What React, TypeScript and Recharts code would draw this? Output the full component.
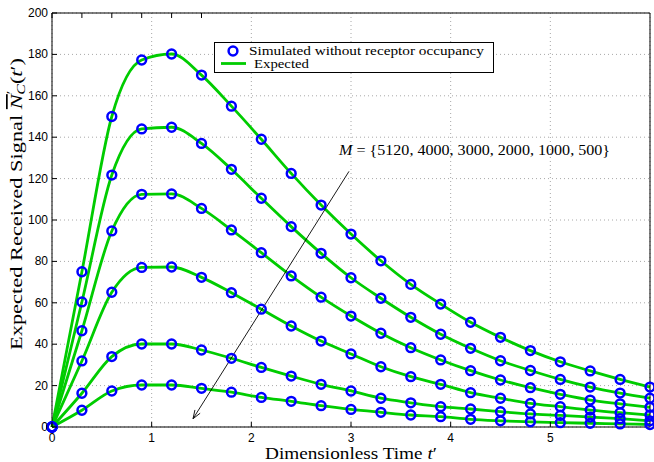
import React from "react";
import { ComposedChart, Line, XAxis, YAxis, CartesianGrid, ReferenceLine } from "recharts";

// sample times (dimensionless) and curves for each M
const TIMES = [0, 0.3, 0.6, 0.9, 1.2, 1.5, 1.8, 2.1, 2.4, 2.7, 3.0, 3.3, 3.6, 3.9, 4.2, 4.5, 4.8, 5.1, 5.4, 5.7, 6.0];
const M5120 = [0, 75, 150, 177.3, 180.2, 170, 155, 139, 122.5, 107.2, 93.2, 80.3, 68.9, 59.4, 50.6, 43.3, 36.9, 31.5, 27.1, 23, 19.3];
const M4000 = [0, 60.4, 121.7, 144, 144.8, 137, 124.5, 110.5, 96.8, 83.9, 72.1, 62.2, 53, 44.8, 38, 32, 27.3, 23, 19.3, 16.4, 13.9];
const M3000 = [0, 46.5, 94.7, 112.4, 112.6, 105.6, 95.2, 84.2, 73, 62.7, 53.6, 45.3, 38.3, 32.4, 27.2, 22.7, 19, 15.8, 13, 11.2, 9.5];
const M2000 = [0, 31.9, 65.1, 77.1, 77.3, 72.3, 64.9, 56.9, 48.8, 41.5, 35.3, 29.1, 24.3, 20.6, 16.6, 13.9, 11.4, 9.8, 8.2, 6.9, 5.8];
const M1000 = [0, 16.3, 34, 40.1, 40.1, 37.2, 33.2, 28.8, 24.6, 20.6, 17.4, 13.9, 11.7, 9.8, 8.7, 7.4, 6.3, 5.6, 4.8, 4, 3];
const M500 = [0, 8.1, 17.4, 20.3, 20.3, 18.7, 16.8, 14.3, 12.4, 10.3, 8.5, 7.1, 5.8, 5, 3.7, 3, 2.5, 2.1, 1.8, 1.5, 1.2];

const X_TICKS = [0, 1, 2, 3, 4, 5];
const Y_TICKS = [0, 20, 40, 60, 80, 100, 120, 140, 160, 180, 200];

const SERIES = [
  { key: "m5120", values: M5120 },
  { key: "m4000", values: M4000 },
  { key: "m3000", values: M3000 },
  { key: "m2000", values: M2000 },
  { key: "m1000", values: M1000 },
  { key: "m500", values: M500 },
];

// annotation arrow, in data units
const ARROW_FROM = { x: 2.98, y: 123.5 };
const ARROW_TO = { x: 1.415, y: 4 };

const data = TIMES.map((t, i) => {
  const row: Record<string, number> = { t };
  SERIES.forEach((s) => (row[s.key] = s.values[i]));
  return row;
});

const GREEN = "#00cc00";
const BLUE = "#0000ff";
const SANS = "'Liberation Sans', Arial, sans-serif";
const SERIF = "'Liberation Serif', 'Times New Roman', serif";

const XTick = (props: any) => {
  const { x, y, payload } = props;
  return (
    <g>
      <line x1={x} x2={x} y1={y} y2={y - 5} stroke="#000" />
      <text x={x} y={y + 15} textAnchor="middle" fontSize={12} fontFamily={SANS} fill="#000">
        {payload.value}
      </text>
    </g>
  );
};

const TopTick = (props: any) => {
  const { x, y } = props;
  return <line x1={x} x2={x} y1={y} y2={y + 5} stroke="#000" />;
};

const YTick = (props: any) => {
  const { x, y, payload } = props;
  return (
    <g>
      <line x1={x} x2={x + 5} y1={y} y2={y} stroke="#000" />
      <text x={x - 4} y={y + 4} textAnchor="end" fontSize={12} fontFamily={SANS} fill="#000">
        {payload.value}
      </text>
    </g>
  );
};

const RightTick = (props: any) => {
  const { x, y } = props;
  return <line x1={x} x2={x - 5} y1={y} y2={y} stroke="#000" />;
};

const XLabel = (props: any) => {
  const { viewBox } = props;
  const cx = viewBox.x + viewBox.width / 2;
  return (
    <text
      x={cx - 86}
      y={viewBox.y + 32}
      fontSize={17}
      fontFamily={SERIF}
      fill="#000"
      textLength={172}
      lengthAdjust="spacingAndGlyphs"
    >
      Dimensionless Time <tspan fontStyle="italic">t</tspan>′
    </text>
  );
};

const YLabel = () => (
  <text
    transform="translate(22, 350) rotate(-90)"
    fontSize={17}
    fontFamily={SERIF}
    fill="#000"
    textLength={292}
    lengthAdjust="spacingAndGlyphs"
  >
    Expected Received Signal{" "}
    <tspan fontStyle="italic" style={{ textDecoration: "overline" }}>N</tspan>
    <tspan fontSize={12} dy={-7}>′</tspan>
    <tspan fontSize={12} fontStyle="italic" dx={-3} dy={10}>C</tspan>
    <tspan dy={-3}>(</tspan>
    <tspan fontStyle="italic">t</tspan>′)
  </text>
);

const Arrow = (props: any) => {
  const { x1, y1, x2, y2 } = props;
  const ang = Math.atan2(y2 - y1, x2 - x1);
  const len = 9;
  const a1 = ang + Math.PI - 0.35;
  const a2 = ang + Math.PI + 0.35;
  return (
    <g>
      <line x1={x1} y1={y1} x2={x2} y2={y2} stroke="#000" strokeWidth={0.9} />
      <path
        d={`M${x2 + len * Math.cos(a1)},${y2 + len * Math.sin(a1)} L${x2},${y2} L${x2 + len * Math.cos(a2)},${y2 + len * Math.sin(a2)}`}
        stroke="#000"
        strokeWidth={0.9}
        fill="none"
      />
      <text x={x1 - 10} y={y1 - 16} fontSize={15} fontFamily={SERIF} fill="#000" textLength={271} lengthAdjust="spacingAndGlyphs">
        <tspan fontStyle="italic">M</tspan> = {"{"}5120, 4000, 3000, 2000, 1000, 500{"}"}
      </text>
    </g>
  );
};

export default function App() {
  return (
    <div style={{ position: "absolute", left: 0, top: 0, width: 654, height: 462, background: "#fff" }}>
      <ComposedChart width={654} height={462} data={data} margin={{ top: 0, right: 0, bottom: 0, left: 0 }}>
        <CartesianGrid stroke="#a8a8a8" strokeDasharray="1 3" />
        <XAxis
          dataKey="t"
          type="number"
          domain={[0, 6]}
          ticks={X_TICKS}
          height={35}
          tickLine={false}
          tickSize={0}
          tickMargin={0}
          tick={<XTick />}
          axisLine={{ stroke: "#000" }}
          label={<XLabel />}
        />
        <XAxis
          xAxisId="top"
          orientation="top"
          type="number"
          domain={[0, 6]}
          ticks={X_TICKS}
          height={13}
          tickLine={false}
          tickSize={0}
          tickMargin={0}
          tick={<TopTick />}
          axisLine={{ stroke: "#000" }}
        />
        <YAxis
          type="number"
          domain={[0, 200]}
          ticks={Y_TICKS}
          width={52}
          tickLine={false}
          tickSize={0}
          tickMargin={0}
          tick={<YTick />}
          axisLine={{ stroke: "#000" }}
          label={<YLabel />}
        />
        <YAxis
          yAxisId="right"
          orientation="right"
          type="number"
          domain={[0, 200]}
          ticks={Y_TICKS}
          width={4}
          tickLine={false}
          tickSize={0}
          tickMargin={0}
          tick={<RightTick />}
          axisLine={{ stroke: "#000" }}
        />
        {SERIES.map((s) => (
          <Line
            key={`l-${s.key}`}
            dataKey={s.key}
            type="monotone"
            stroke={GREEN}
            strokeWidth={2.8}
            dot={false}
            activeDot={false}
            isAnimationActive={false}
          />
        ))}
        {SERIES.map((s) => (
          <Line
            key={`d-${s.key}`}
            dataKey={s.key}
            stroke="none"
            dot={{ r: 4.4, stroke: BLUE, strokeWidth: 2.5, fill: "none" }}
            activeDot={false}
            isAnimationActive={false}
          />
        ))}
        <ReferenceLine segment={[ARROW_FROM, ARROW_TO]} shape={<Arrow />} />
      </ComposedChart>
      <svg width={654} height={462} style={{ position: "absolute", left: 0, top: 0, pointerEvents: "none" }}>
        <rect x={214.5} y={42.5} width={279} height={30} fill="#fff" stroke="#000" strokeWidth={1} />
        <circle cx={233} cy={51} r={4.4} stroke={BLUE} strokeWidth={2.5} fill="none" />
        <text x={249} y={55} fontSize={12} fontFamily={SERIF} fill="#000" textLength={235} lengthAdjust="spacingAndGlyphs">
          Simulated without receptor occupancy
        </text>
        <line x1={221} x2={246} y1={63.5} y2={63.5} stroke={GREEN} strokeWidth={2.8} />
        <text x={254} y={67.5} fontSize={12} fontFamily={SERIF} fill="#000" textLength={55} lengthAdjust="spacingAndGlyphs">
          Expected
        </text>
      </svg>
    </div>
  );
}
